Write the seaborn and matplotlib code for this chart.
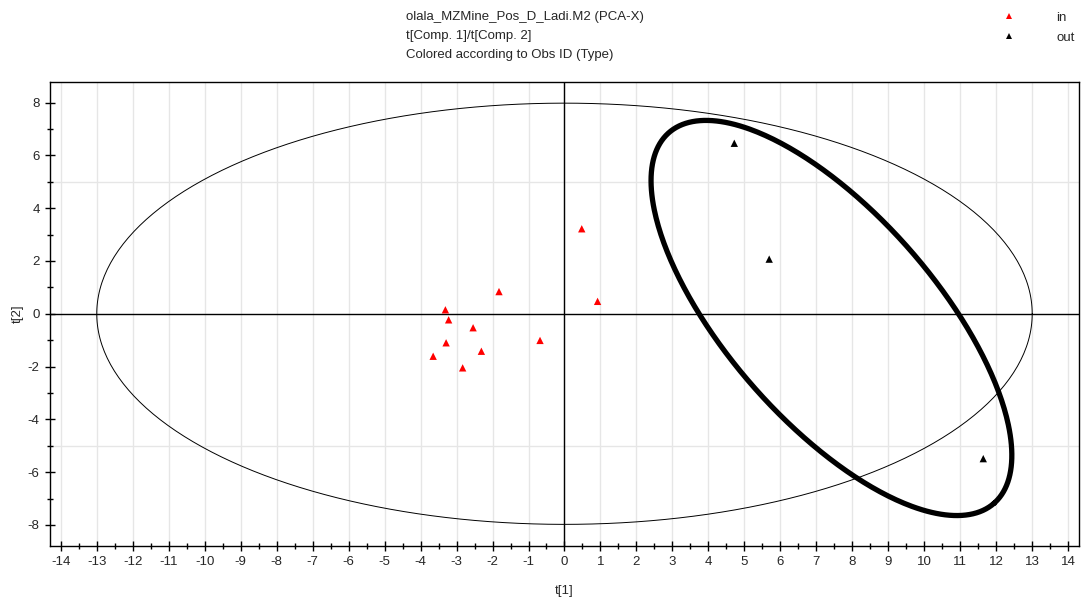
import numpy as np
import pandas as pd
import matplotlib
matplotlib.use("Agg")
import matplotlib.pyplot as plt
from matplotlib.ticker import MultipleLocator
import seaborn as sns

# scores (t[1], t[2])
t1_in = [-3.31, -3.22, -2.54, -3.29, -2.31, -3.65, -2.83, -1.82, -0.68, 0.48, 0.92]
t2_in = [0.15, -0.23, -0.53, -1.10, -1.42, -1.61, -2.05, 0.84, -1.01, 3.22, 0.47]
t1_out = [4.72, 5.69, 11.64]
t2_out = [6.46, 2.07, -5.49]

# Hotelling T2 ellipse semi-axes
hot_a, hot_b = 13.0, 7.98
# hand-drawn highlight ellipse (centre and two half-axis vectors, data units)
hl_center = (7.42, -0.16)
hl_u = (4.52, -7.02)
hl_v = (-2.17, -2.60)

title_lines = ["olala_MZMine_Pos_D_Ladi.M2 (PCA-X)",
               "t[Comp. 1]/t[Comp. 2]",
               "Colored according to Obs ID (Type)"]

df = pd.DataFrame({
    "t1": t1_in + t1_out,
    "t2": t2_in + t2_out,
    "Type": ["in"] * len(t1_in) + ["out"] * len(t1_out),
})

sns.set_theme(style="white")
plt.rcParams["font.family"] = ["Liberation Sans", "DejaVu Sans"]
plt.rcParams["axes.unicode_minus"] = False

fig = plt.figure(figsize=(10.82, 6.01), dpi=100)
ax = fig.add_axes([0.0462, 0.0915, 0.951, 0.772])

# grid: every integer in x, only +-5 in y
for gx in range(-14, 15):
    ax.axvline(gx, color="#e6e6e6", lw=1, zorder=0)
for gy in (-5, 5):
    ax.axhline(gy, color="#e6e6e6", lw=1, zorder=0)
ax.axhline(0, color="black", lw=1, zorder=1)
ax.axvline(0, color="black", lw=1, zorder=1)

tt = np.linspace(0, 2 * np.pi, 400)
ax.plot(hot_a * np.cos(tt), hot_b * np.sin(tt), color="black", lw=0.7, zorder=2)
ax.plot(hl_center[0] + hl_u[0] * np.cos(tt) + hl_v[0] * np.sin(tt),
        hl_center[1] + hl_u[1] * np.cos(tt) + hl_v[1] * np.sin(tt),
        color="black", lw=3.8, zorder=2, solid_capstyle="round")

sns.scatterplot(data=df, x="t1", y="t2", hue="Type",
                palette={"in": "#ff0000", "out": "black"},
                marker="^", s=28, linewidth=0, ax=ax, zorder=3)

ax.set_xlim(-14.3, 14.3)
ax.set_ylim(-8.8, 8.78)
ax.xaxis.set_major_locator(MultipleLocator(1))
ax.xaxis.set_minor_locator(MultipleLocator(0.5))
ax.yaxis.set_major_locator(MultipleLocator(2))
ax.yaxis.set_minor_locator(MultipleLocator(1))
ax.tick_params(which="both", direction="inout", color="black", width=1,
               labelsize=9.5, bottom=True, left=True)
ax.tick_params(which="major", length=7, pad=4)
ax.tick_params(which="minor", length=5)
for sp in ax.spines.values():
    sp.set_color("black")
    sp.set_linewidth(1)

ax.set_xlabel("t[1]", fontsize=9.5, labelpad=12)
ax.set_ylabel("t[2]", fontsize=9.5, labelpad=3)

for i, line in enumerate(title_lines):
    fig.text(406 / 1082, 1 - (17 + 19 * i) / 601, line, fontsize=9.5,
             ha="left", va="center")

sns.move_legend(ax, "upper left", bbox_to_anchor=(0.909, 1.0),
                bbox_transform=fig.transFigure, frameon=False, title=None,
                fontsize=9.5, handletextpad=2.6, labelspacing=0.55,
                markerscale=0.9)

fig.savefig("out.png", dpi=100)
